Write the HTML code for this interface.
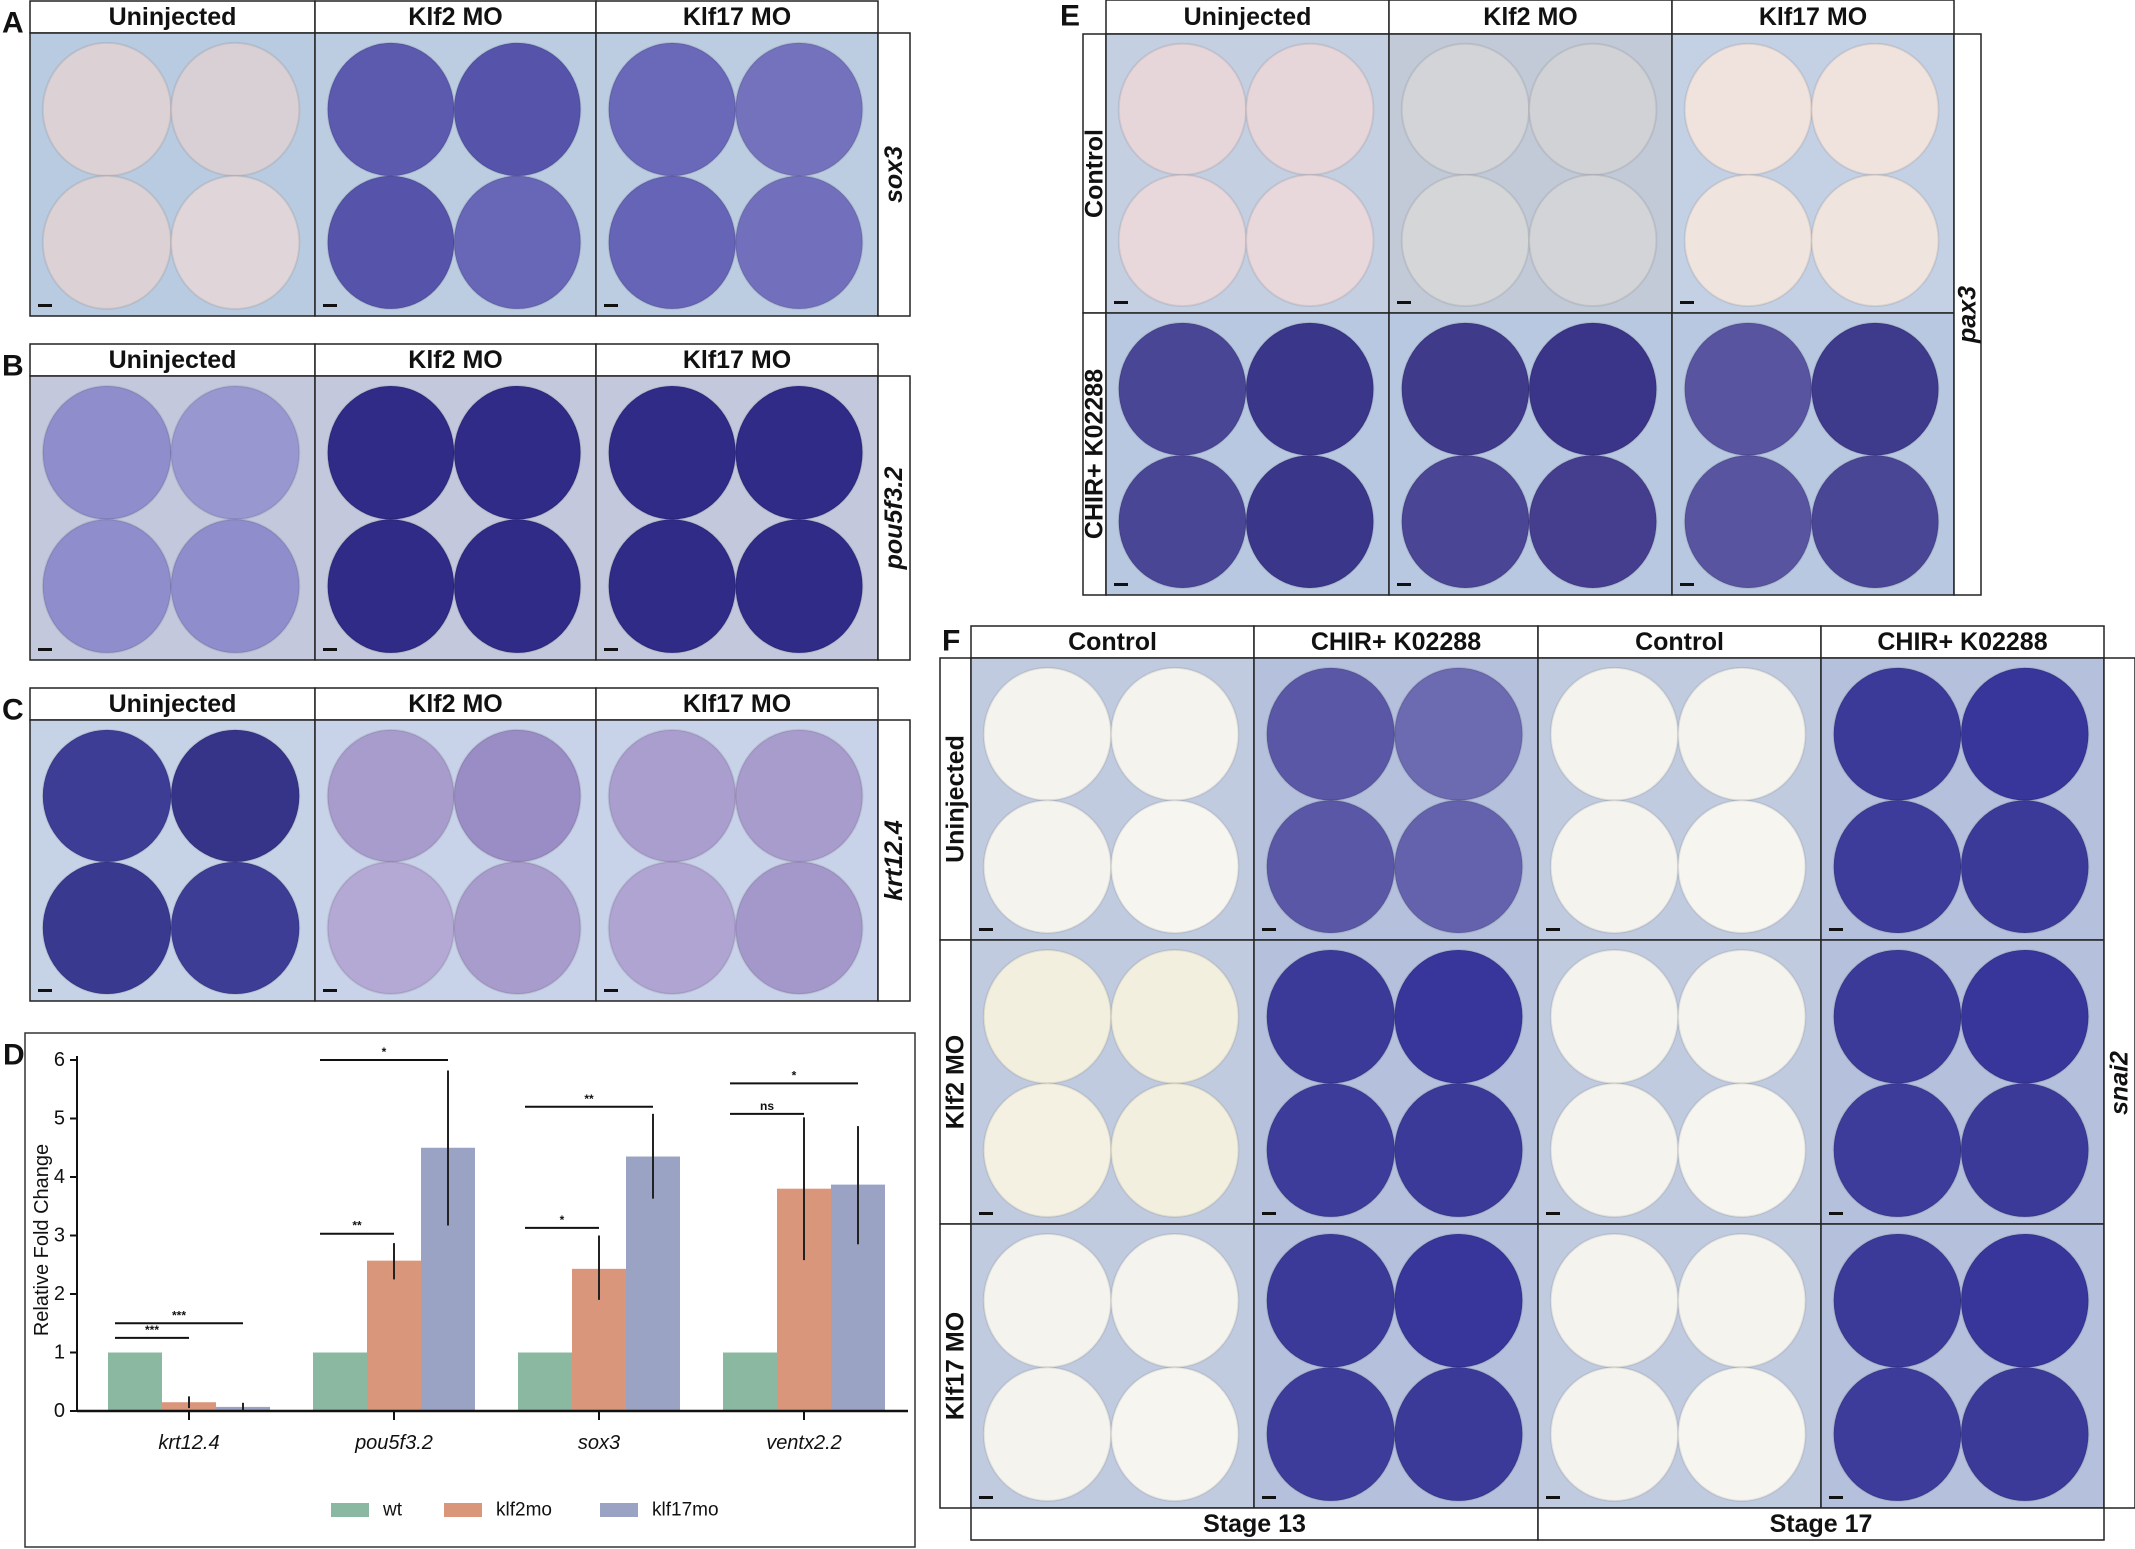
<!DOCTYPE html>
<html><head><meta charset="utf-8"><style>
html,body{margin:0;padding:0;background:#fff;}
svg{display:block;font-family:"Liberation Sans",sans-serif;}
</style></head><body>
<svg id="fig" width="2135" height="1549" viewBox="0 0 2135 1549"></svg>
<script>
// ---- Chart D data ----
const genes = ['krt12.4','pou5f3.2','sox3','ventx2.2'];
const seriesNames = ['wt','klf2mo','klf17mo'];
const wtVals = [1,1,1,1];
const klf2Vals = [0.15,2.57,2.43,3.8];
const klf17Vals = [0.07,4.5,4.35,3.87];
const klf2Lo = [0.05,2.25,1.9,2.58];
const klf2Hi = [0.25,2.87,3.0,5.02];
const klf17Lo = [0.0,3.17,3.63,2.85];
const klf17Hi = [0.14,5.82,5.08,4.87];
const yTicks = [0,1,2,3,4,5,6];
const sigGene = [0,0,1,1,2,2,3,3];
const sigTo = [1,2,1,2,1,2,1,2];
const sigY = [1.25,1.5,3.03,6.0,3.13,5.2,5.08,5.6];
const sigLabel = ['***','***','**','*','*','**','ns','*'];

const NS='http://www.w3.org/2000/svg';
const svg=document.getElementById('fig');
function mk(tag,attrs,parent){const e=document.createElementNS(NS,tag);for(const k in attrs)e.setAttribute(k,attrs[k]);(parent||svg).appendChild(e);return e;}
function txt(x,y,s,size,opts,parent){const t=mk('text',Object.assign({x:x,y:y,'font-size':size,'text-anchor':'middle','dominant-baseline':'central','font-weight':'bold',fill:'#111'},opts||{}),parent);t.textContent=s;return t;}

function cell(x,y,w,h,bg,eggs,name){
  const g=mk('g',{});
  
  
  mk('rect',{x:x,y:y,width:w,height:h,fill:bg,stroke:'#222','stroke-width':1.5},g);
  const rx=w*0.225, ry=h*0.235;
  const pos=[[0.27,0.27],[0.72,0.27],[0.27,0.74],[0.72,0.74]];
  for(let i=0;i<4;i++){
    mk('ellipse',{cx:x+w*pos[i][0],cy:y+h*pos[i][1],rx:rx,ry:ry,fill:eggs[i],stroke:'rgba(0,0,0,0.08)','stroke-width':2},g);
  }
  mk('rect',{x:x+8,y:y+h-12,width:14,height:3,fill:'#111'},g);
}
function header(x,y,w,h,s,name,size){
  mk('rect',{x:x,y:y,width:w,height:h,fill:'#fff',stroke:'#222','stroke-width':1.5});
  const t=txt(x+w/2,y+h/2,s,size||25);
  
  
}
function vlabel(x,y,w,h,s,name,italic){
  mk('rect',{x:x,y:y,width:w,height:h,fill:'#fff',stroke:'#222','stroke-width':1.5});
  const t=txt(0,0,s,25,{transform:'translate('+(x+w/2)+','+(y+h/2)+') rotate(-90)','font-style':italic?'italic':'normal'});
  
  
}
function letter(x,y,s){const t=txt(x,y,s,30,{'text-anchor':'start'});}

const cols3=[30,315,596,878];
const abcHeads=['Uninjected','Klf2 MO','Klf17 MO'];
function abcPanel(L,hy,iy,ib,colors,bgs,gene){
  letter(2,hy+22,L);
  for(let i=0;i<3;i++){
    header(cols3[i],hy,cols3[i+1]-cols3[i],iy-hy,abcHeads[i],'header-'+L.toLowerCase()+'-'+i);
    cell(cols3[i],iy,cols3[i+1]-cols3[i],ib-iy,bgs[i],colors[i],'image-'+L.toLowerCase()+'-'+i);
  }
  vlabel(878,iy,32,ib-iy,gene,'gene-label-'+L.toLowerCase(),true);
}
abcPanel('A',1,33,316,[
 ['#dcd2d6','#d8d0d4','#dcd2d6','#e0d6da'],
 ['#5b5aae','#5654aa','#5654aa','#6866b6'],
 ['#6a68b8','#7472bc','#6664b6','#7270bc']],
 ['#b9cbe0','#bccde2','#bccde2'],'sox3');
abcPanel('B',344,376,660,[
 ['#8f8dcc','#9997d0','#8f8dcc','#8f8dcc'],
 ['#2f2b86','#2f2b86','#2f2b86','#2f2b86'],
 ['#2f2b86','#2f2b86','#2f2b86','#2f2b86']],
 ['#c4c8dc','#c4c8dc','#c4c8dc'],'pou5f3.2');
abcPanel('C',688,720,1001,[
 ['#3e3d96','#363488','#3a3990','#3e3d96'],
 ['#a89ccc','#9a8cc4','#b4a8d4','#a89ccc'],
 ['#aa9ece','#a89ccc','#b0a4d2','#a498ca']],
 ['#c6d2e6','#c8d2e8','#c8d2e8'],'krt12.4');

// ---- Panel E ----
letter(1060,16,'E');
const ecols=[1106,1389,1672,1954];
for(let i=0;i<3;i++) header(ecols[i],0,ecols[i+1]-ecols[i],34,abcHeads[i],'header-e-'+i);
vlabel(1083,34,23,279,'Control','row-label-e-control');
vlabel(1083,313,23,282,'CHIR+ K02288','row-label-e-chir');
const eCtl=[['#e6d6da','#e6d6da','#e8d8dc','#e8d8dc'],['#d2d4d8','#d0d2d6','#d4d6d8','#d2d4d8'],['#f0e2dc','#f0e2dc','#f0e4de','#f0e4de']];
const eChir=[['#4a4696','#3a368a','#4a4696','#3a368a'],['#3f3a8a','#3a3588','#4a4594','#453e8e'],['#5854a0','#3e3a8c','#5854a0','#4a4696']];
const eBg=['#c4cfe2','#c2cad8','#c4d0e4'];
for(let i=0;i<3;i++){
  cell(ecols[i],34,ecols[i+1]-ecols[i],279,eBg[i],eCtl[i],'image-e-control-'+i);
  cell(ecols[i],313,ecols[i+1]-ecols[i],282,'#b8c8e0',eChir[i],'image-e-chir-'+i);
}
vlabel(1954,34,27,561,'pax3','gene-label-e',true);

// ---- Panel F ----
letter(942,641,'F');
const fcols=[971,1254,1538,1821,2104];
const fHeads=['Control','CHIR+ K02288','Control','CHIR+ K02288'];
for(let i=0;i<4;i++) header(fcols[i],626,fcols[i+1]-fcols[i],32,fHeads[i],'header-f-'+i);
const frows=[658,940,1224,1508];
const fRowNames=['Uninjected','Klf2 MO','Klf17 MO'];
for(let r=0;r<3;r++){
  vlabel(940,frows[r],31,frows[r+1]-frows[r],fRowNames[r],'row-label-f-'+r);
  for(let c=0;c<4;c++){
    const ctl=(c%2===0);
    let eggs;
    if(ctl){eggs = (r===1&&c===0)?['#f2efde','#f2efde','#f4f1e2','#f2efde']:['#f4f3ee','#f4f3ee','#f4f3ee','#f6f5f0'];}
    else{eggs = r===0&&c===1?['#5a58a6','#6c6ab0','#5a58a6','#6462ac']:['#3c3a98','#38369a','#3e3c9a','#3c3a98'];}
    cell(fcols[c],frows[r],fcols[c+1]-fcols[c],frows[r+1]-frows[r],ctl?'#c0cbe0':'#b4c0dc',eggs,'image-f-'+r+'-'+c);
  }
}
header(971,1508,567,32,'Stage 13','stage-13-label');
header(1538,1508,566,32,'Stage 17','stage-17-label');
vlabel(2104,658,31,850,'snai2','gene-label-f',true);

// ---- Chart D ----
const chart=mk('g',{});


mk('rect',{x:25,y:1033,width:890,height:514,fill:'#fff',stroke:'#333','stroke-width':1.5},chart);
letter(3,1055,'D');
const Y0=1411, PER=58.5, X0=77, X1=908;
const yS=v=>Y0-v*PER;
const groupX=[189,394,599,804];
const bw=54;
const barX=(g,s)=>groupX[g]+(s-1)*bw;
const colors=['#8bb8a1','#d9967a','#9aa3c4'];
const allVals=[wtVals,klf2Vals,klf17Vals];
for(let g=0;g<genes.length;g++){
  for(let s=0;s<3;s++){
    const v=allVals[s][g];
    const b=mk('rect',{x:barX(g,s)-bw/2,y:yS(v),width:bw,height:v*PER,fill:colors[s]},chart);
    
    
  }
  const e1=mk('line',{x1:barX(g,1),x2:barX(g,1),y1:yS(klf2Lo[g]),y2:yS(klf2Hi[g]),stroke:'#222','stroke-width':2},chart);
  
  
  const e2=mk('line',{x1:barX(g,2),x2:barX(g,2),y1:yS(klf17Lo[g]),y2:yS(klf17Hi[g]),stroke:'#222','stroke-width':2},chart);
  
  
  mk('line',{x1:groupX[g],x2:groupX[g],y1:Y0,y2:Y0+9,stroke:'#111','stroke-width':2},chart);
  const gl=txt(groupX[g],Y0+32,genes[g],20,{'font-weight':'normal','font-style':'italic'},chart);
  
  
}
for(let i=0;i<sigY.length;i++){
  const g=sigGene[i];
  const xa=barX(g,0)-bw/2+7, xb=barX(g,sigTo[i]);
  mk('line',{x1:xa,x2:xb,y1:yS(sigY[i]),y2:yS(sigY[i]),stroke:'#111','stroke-width':2},chart);
  const st=txt((xa+xb)/2,yS(sigY[i])-8,sigLabel[i],12,{},chart);
  
  
}
mk('line',{x1:X0,x2:X1,y1:Y0,y2:Y0,stroke:'#111','stroke-width':2.5},chart);
mk('line',{x1:X0,x2:X0,y1:Y0,y2:yS(6)-4,stroke:'#111','stroke-width':2},chart);
for(const t of yTicks){
  mk('line',{x1:X0-7,x2:X0,y1:yS(t),y2:yS(t),stroke:'#111','stroke-width':2},chart);
  const tl=txt(X0-12,yS(t),String(t),20,{'text-anchor':'end','font-weight':'normal'},chart);
  
  
}
const yt=txt(0,0,'Relative Fold Change',20,{'font-weight':'normal',transform:'translate(42,1240) rotate(-90)'},chart);


const legX=[331,444,600];
for(let s=0;s<3;s++){
  const le=mk('g',{},chart);
  
  
  mk('rect',{x:legX[s],y:1503,width:38,height:14,fill:colors[s]},le);
  txt(legX[s]+52,1510,seriesNames[s],19,{'text-anchor':'start','font-weight':'normal'},le);
}
</script>
</body></html>
